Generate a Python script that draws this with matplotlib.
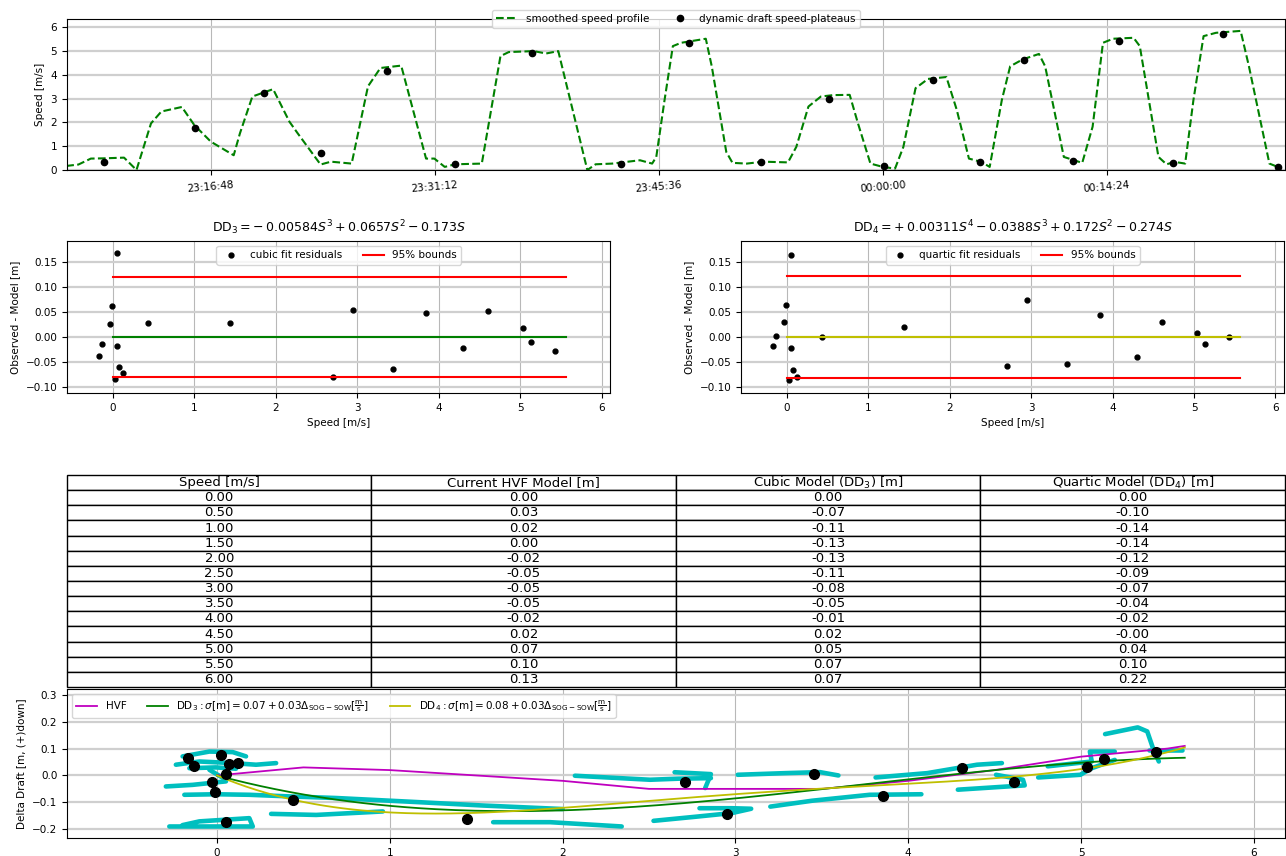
import numpy as np
import matplotlib.pyplot as plt
from matplotlib.ticker import FuncFormatter, MultipleLocator

plt.rcParams['font.family'] = 'DejaVu Sans'
plt.rcParams['font.size'] = 7.5

# ---- speed profile (time in seconds relative to 00:00:00) ----
profile_t = [-3150, -3103, -3055, -3007, -2927, -2879, -2823, -2783, -2704, -2656,
             -2592, -2504, -2480, -2432, -2352, -2289, -2257, -2169, -2129, -2049,
             -1986, -1938, -1858, -1762, -1730, -1690, -1650, -1547, -1475, -1443,
             -1347, -1299, -1252, -1140, -1108, -1044, -937, -890, -874, -842,
             -810, -778, -683, -660, -604, -580, -525, -461, -366, -334,
             -287, -239, -191, -128, -96, -48, 0, 47, 79, 126,
             174, 245, 285, 332, 380, 412, 459, 491, 539, 602,
             626, 698, 729, 769, 809, 849, 888, 967, 991, 1063,
             1094, 1126, 1166, 1198, 1237, 1285, 1380, 1412, 1491, 1523]
profile_v = [0.17, 0.23, 0.48, 0.49, 0.52, 0.0, 1.96, 2.46, 2.65, 1.89,
             1.19, 0.62, 1.54, 3.09, 3.40, 2.03, 1.54, 0.23, 0.35, 0.27,
             3.52, 4.29, 4.39, 0.48, 0.48, 0.13, 0.24, 0.27, 4.79, 4.96,
             5.00, 4.90, 5.00, 0.0, 0.24, 0.27, 0.41, 0.27, 0.55, 2.95,
             5.21, 5.35, 5.52, 4.36, 0.76, 0.30, 0.27, 0.35, 0.32, 0.97,
             2.67, 3.09, 3.15, 3.16, 1.96, 0.27, 0.13, 0.06, 0.97, 3.44,
             3.83, 3.91, 2.53, 0.48, 0.34, 0.13, 2.95, 4.36, 4.65, 4.88,
             4.36, 0.55, 0.44, 0.30, 1.82, 5.35, 5.52, 5.56, 5.21, 0.55,
             0.24, 0.34, 0.27, 2.95, 5.63, 5.77, 5.85, 4.36, 0.27, 0.13]
plateau_t = [-3006, -2654, -2386, -2166, -1914, -1650, -1354, -1012, -748, -471,
             -208, 4, 193, 374, 544, 733, 910, 1119, 1311, 1523]
plateau_v = [0.34, 1.75, 3.25, 0.73, 4.15, 0.27, 4.93, 0.27, 5.35, 0.34,
             2.98, 0.16, 3.77, 0.34, 4.62, 0.38, 5.42, 0.31, 5.73, 0.13]

# ---- fit residuals ----
fit_speed = [-0.165, -0.13, -0.03, -0.01, 0.03, 0.05, 0.05, 0.075, 0.125, 0.435,
             1.44, 2.705, 2.945, 3.445, 3.85, 4.305, 4.61, 5.035, 5.13, 5.43]
cubic_res = [-0.038, -0.0145, 0.026, 0.062, -0.083, 0.168, -0.018, -0.059, -0.071, 0.028,
             0.029, -0.079, 0.053, -0.063, 0.047, -0.022, 0.051, 0.0185, -0.0106, -0.027]
quartic_res = [-0.018, 0.003, 0.030, 0.063, -0.085, 0.164, -0.022, -0.065, -0.080, 0.0,
               0.020, -0.057, 0.073, -0.053, 0.044, -0.040, 0.030, 0.008, -0.014, 0.0]
bound_speed = [0.0, 5.56]
cubic_bounds = [0.119, -0.080]
quartic_bounds = [0.121, -0.082]

# ---- model table ----
table_speed = [0.0, 0.5, 1.0, 1.5, 2.0, 2.5, 3.0, 3.5, 4.0, 4.5, 5.0, 5.5, 6.0]
table_hvf = [0.00, 0.03, 0.02, 0.00, -0.02, -0.05, -0.05, -0.05, -0.02, 0.02, 0.07, 0.10, 0.13]
table_dd3 = [0.00, -0.07, -0.11, -0.13, -0.13, -0.11, -0.08, -0.05, -0.01, 0.02, 0.05, 0.07, 0.07]
table_dd4 = [0.00, -0.10, -0.14, -0.14, -0.12, -0.09, -0.07, -0.04, -0.02, -0.0, 0.04, 0.10, 0.22]
table_cols = ['Speed [m/s]', 'Current HVF Model [m]', 'Cubic Model (DD$_3$) [m]',
              'Quartic Model (DD$_4$) [m]']

# ---- delta draft vs speed ----
dd3_coef = [-0.00584, 0.0657, -0.173, 0.0]
dd4_coef = [0.00311, -0.0388, 0.172, -0.274, 0.0]
hvf_speed = [0.0, 0.5, 1.0, 1.5, 2.0, 2.5, 3.0, 3.5, 4.0, 4.5, 5.0, 5.5, 5.6]
hvf_dd = [0.00, 0.03, 0.02, 0.00, -0.02, -0.05, -0.05, -0.05, -0.02, 0.02, 0.07, 0.10, 0.11]

obs_speed = [-0.166, -0.133, 0.025, 0.068, 0.122, 0.052, -0.027, -0.010, 0.052, 0.439,
             1.447, 2.710, 2.953, 3.452, 3.853, 4.309, 4.612, 5.035, 5.133, 5.432]
obs_dd = [0.066, 0.034, 0.076, 0.043, 0.047, 0.007, -0.024, -0.062, -0.175, -0.092,
          -0.164, -0.024, -0.143, 0.006, -0.075, 0.027, -0.024, 0.030, 0.063, 0.088]

# raw drafts, one list per track
track_speed = [
    [-0.199, -0.044, 0.091, 0.168],
    [-0.238, -0.102, 0.091, 0.226, 0.342],
    [-0.160, -0.006, 0.110],
    [-0.044, 0.052],
    [-0.296, -0.141, 0.052],
    [-0.189, -0.006, 0.187, 0.419, 0.690, 1.154, 1.540, 2.0],
    [0.313, 0.574, 0.960],
    [-0.276, 0.207, 0.187, -0.102, -0.20],
    [1.598, 1.927, 2.342],
    [2.071, 2.506, 2.670, 2.858],
    [2.648, 2.858, 2.845, 2.825],
    [2.526, 2.781, 2.98, 3.091, 2.98, 2.792],
    [3.013, 3.290, 3.489, 3.596],
    [3.202, 3.445, 3.777, 4.076],
    [3.811, 4.110, 4.398, 4.542],
    [4.287, 4.575, 4.674, 4.664, 4.508],
    [4.752, 4.996, 5.062, 5.195],
    [4.807, 5.062, 5.051, 5.195],
    [5.139, 5.328, 5.383, 5.416, 5.450],
    [5.394, 5.582],
]
track_dd = [
    [0.071, 0.089, 0.087, 0.071],
    [0.040, 0.052, 0.046, 0.040, 0.046],
    [0.027, 0.030, 0.025],
    [0.021, -0.016],
    [-0.041, -0.035, -0.022],
    [-0.072, -0.070, -0.072, -0.078, -0.084, -0.099, -0.112, -0.125],
    [-0.143, -0.147, -0.134],
    [-0.190, -0.190, -0.159, -0.171, -0.185],
    [-0.174, -0.174, -0.190],
    [-0.001, -0.016, -0.012, -0.010],
    [0.012, 0.005, -0.016, -0.047],
    [-0.169, -0.153, -0.140, -0.124, -0.122, -0.122],
    [0.0025, 0.0087, 0.0124, 0.0],
    [-0.116, -0.094, -0.072, -0.070],
    [-0.0075, 0.0087, 0.040, 0.046],
    [-0.053, -0.041, -0.037, -0.016, 0.0025],
    [-0.0075, 0.0025, 0.027, 0.058],
    [0.034, 0.052, 0.089, 0.089],
    [0.154, 0.179, 0.164, 0.102, 0.052],
    [0.096, 0.096],
]


def hms(t, pos=None):
    t = int(round(t)) % 86400
    return '%02d:%02d:%02d' % (t // 3600, (t % 3600) // 60, t % 60)


def grids(ax):
    ax.set_axisbelow(True)
    ax.grid(axis='y', color='#cfcfcf', lw=1.6)
    ax.grid(axis='x', color='#b8b8b8', lw=0.8)


fig = plt.figure(figsize=(12.86, 8.56), dpi=100)

# ---- top: speed profile ----
ax1 = fig.add_axes([0.0521, 0.8014, 0.9471, 0.1764])
ax1.plot(profile_t, profile_v, 'g--', lw=1.5, label='smoothed speed profile')
ax1.plot(plateau_t, plateau_v, 'ko', ms=4.5, label='dynamic draft speed-plateaus')
ax1.set_xlim(-3147, 1551)
ax1.set_ylim(0, 6.35)
ax1.xaxis.set_major_locator(MultipleLocator(864))
ax1.xaxis.set_major_formatter(FuncFormatter(hms))
plt.setp(ax1.get_xticklabels(), rotation=5)
ax1.set_ylabel('Speed [m/s]')
grids(ax1)
ax1.legend(loc='upper center', bbox_to_anchor=(0.5, 1.095), ncol=2, fontsize=7.5)

# ---- residual plots ----
res_sets = [
    (0.0521, 'cubic fit residuals', cubic_res, cubic_bounds, 'g',
     r'$\mathrm{DD}_3 = -\:0.00584S^3 + 0.0657S^2 - 0.173S$'),
    (0.5762, 'quartic fit residuals', quartic_res, quartic_bounds, 'y',
     r'$\mathrm{DD}_4 = +\:0.00311S^4 - 0.0388S^3 + 0.172S^2 - 0.274S$'),
]
for left, lab, res, bnd, zc, title in res_sets:
    ax = fig.add_axes([left, 0.5409, 0.4226, 0.1776])
    ax.plot(fit_speed, res, 'k.', ms=7, label=lab)
    ax.plot(bound_speed, [bnd[0]] * 2, 'r', lw=1.5, label='95% bounds')
    ax.plot(bound_speed, [bnd[1]] * 2, 'r', lw=1.5)
    ax.plot(bound_speed, [0.0, 0.0], color=zc, lw=1.5)
    ax.set_xlim(-0.56, 6.11)
    ax.set_ylim(-0.111, 0.191)
    ax.set_yticks([-0.10, -0.05, 0.0, 0.05, 0.10, 0.15])
    ax.set_xlabel('Speed [m/s]')
    ax.set_ylabel('Observed - Model [m]')
    ax.set_title(title, fontsize=9)
    grids(ax)
    ax.legend(loc='upper center', ncol=2, fontsize=7.5)

# ---- table ----
tax = fig.add_axes([0.0521, 0.1974, 0.9471, 0.2477])
tax.axis('off')
rows = [['%.2f' % a, '%.2f' % b, '%.2f' % c, '%.2f' % d]
        for a, b, c, d in zip(table_speed, table_hvf, table_dd3, table_dd4)]
tbl = tax.table(cellText=rows, colLabels=table_cols, cellLoc='center', bbox=[0, 0, 1, 1])
tbl.auto_set_font_size(False)
tbl.set_fontsize(9.5)

# ---- bottom: delta draft ----
ax4 = fig.add_axes([0.0521, 0.0210, 0.9471, 0.1741])
for xs, ys in zip(track_speed, track_dd):
    ax4.plot(xs, ys, color='c', lw=3.3, solid_capstyle='round', solid_joinstyle='round')
s = np.linspace(0, 5.6, 200)
ax4.plot(hvf_speed, hvf_dd, 'm', lw=1.3, label='HVF')
ax4.plot(s, np.polyval(dd3_coef, s), 'g', lw=1.3,
         label=r'$\mathrm{DD}_3: \sigma[\mathrm{m}] = 0.07 + 0.03\Delta_{\mathrm{SOG-SOW}}[\frac{\mathrm{m}}{\mathrm{s}}]$')
ax4.plot(s, np.polyval(dd4_coef, s), 'y', lw=1.3,
         label=r'$\mathrm{DD}_4: \sigma[\mathrm{m}] = 0.08 + 0.03\Delta_{\mathrm{SOG-SOW}}[\frac{\mathrm{m}}{\mathrm{s}}]$')
ax4.plot(obs_speed, obs_dd, 'ko', ms=7, zorder=5)
ax4.set_xlim(-0.868, 6.18)
ax4.set_ylim(-0.233, 0.322)
ax4.set_yticks([-0.2, -0.1, 0.0, 0.1, 0.2, 0.3])
ax4.set_ylabel('Delta Draft [m, (+)down]')
grids(ax4)
ax4.legend(loc='upper left', ncol=3, fontsize=7.5)

fig.savefig('out.png', dpi=100)
